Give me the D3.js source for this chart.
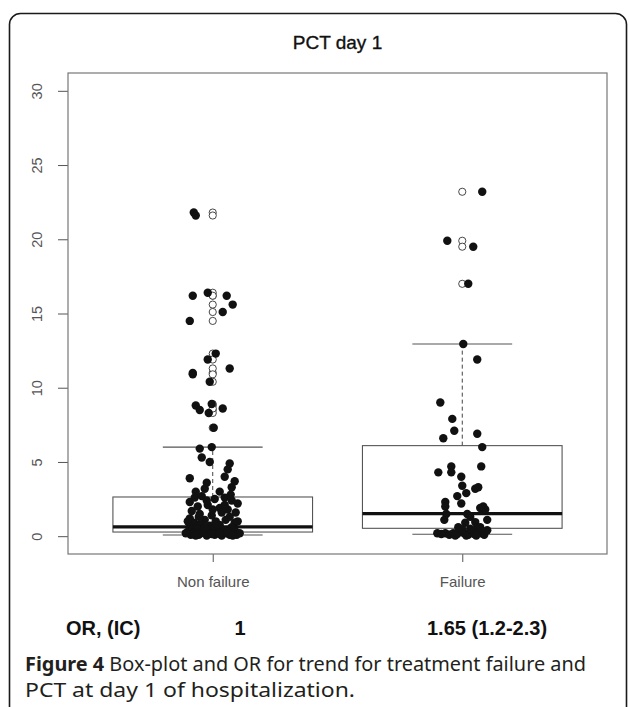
<!DOCTYPE html>
<html>
<head>
<meta charset="utf-8">
<script src="https://cdn.jsdelivr.net/npm/d3@7"></script>
<style>
  html, body { margin: 0; padding: 0; background: #fff; }
  svg { display: block; }
</style>
</head>
<body>
<svg id="chart" width="629" height="707"></svg>
<script>
// ---------- DATA ----------
const title = "PCT day 1";
const categories = ["Non failure", "Failure"];
const yTicks = [0, 5, 10, 15, 20, 25, 30];

// box statistics [lowerWhisker, Q1, median, Q3, upperWhisker]
const boxNonFailure = [0.08, 0.28, 0.63, 2.64, 6.0];
const boxFailure    = [0.13, 0.53, 1.52, 6.1, 12.95];

// jittered observations: [jitter offset (category units), PCT value]
const pointsNonFailure = [
  [-0.076,21.8],[-0.068,21.6],
  [-0.080,16.2],[-0.020,16.4],[0.056,16.2],[0.080,15.6],[0.040,15.1],[-0.092,14.5],
  [0.012,12.3],[-0.020,11.9],[-0.080,11.0],[0.068,11.3],[-0.080,10.9],[-0.012,10.4],
  [-0.068,8.8],[-0.052,8.5],[-0.004,8.9],[-0.016,8.3],[0.040,8.6],
  [0.004,7.3],
  [-0.004,6.0],[-0.052,5.9],[-0.044,5.3],[-0.012,5.0],[0.068,4.9],[0.060,4.5],[-0.092,3.9],
  [0.048,4.0],[0.088,3.7],[0.076,3.3],[-0.024,3.6],[-0.032,3.2],
  [-0.072,2.6],[-0.044,2.7],[0.008,2.5],[0.048,2.6],[0.076,2.4],[0.100,2.2],[-0.092,2.3],
  [-0.060,2.0],[-0.020,2.1],[0.028,1.9],[0.060,1.8],[0.092,1.6],[-0.084,1.7],[-0.052,1.5],
  [-0.004,1.4],[0.036,1.6],[0.068,1.3],[-0.092,1.2],[-0.032,1.1],[0.012,1.0],[0.052,1.1],
  [0.088,0.9],[-0.076,0.9],[-0.052,0.8],[-0.012,0.7],[0.028,0.75],[0.076,0.6],[-0.092,0.6],
  [-0.064,0.5],[-0.032,0.45],[0.004,0.5],[0.044,0.4],[0.084,0.45],[-0.100,0.3],[-0.072,0.25],
  [-0.040,0.3],[-0.012,0.2],[0.020,0.25],[0.056,0.2],[0.092,0.3],[-0.088,0.1],[-0.056,0.1],
  [-0.024,0.05],[0.008,0.1],[0.036,0.05],[0.068,0.1],[0.096,0.1],[-0.080,0.15],[-0.048,0.2],
  [-0.004,0.15],[0.028,0.15],[0.060,0.3],[-0.108,0.2],[0.108,0.2],[-0.068,0.05],[0.080,0.05],
  [-0.032,0.6],[0.016,0.8],[-0.056,1.3],[0.048,2.1],[0.000,1.8],[-0.024,2.4],[0.100,1.0],
  [-0.100,1.0],[0.072,2.8],[-0.068,3.0],[0.028,3.0]
];
const pointsFailure = [
  [0.080,23.2],[-0.060,19.9],[0.044,19.5],[0.024,17.0],[0.004,12.95],[0.060,11.9],
  [-0.088,9.0],[-0.040,7.9],[-0.032,7.1],[-0.076,6.6],[0.060,6.9],[0.080,6.0],
  [-0.044,4.7],[0.076,4.7],[-0.096,4.3],[-0.044,4.3],[-0.004,4.0],[0.000,3.4],
  [-0.020,2.7],[0.016,2.9],[-0.004,2.2],[0.052,3.2],[0.064,3.3],[-0.068,2.3],[-0.068,2.0],
  [-0.072,1.1],[-0.064,1.5],[0.072,1.9],[0.092,1.8],[0.084,2.0],[0.100,1.1],[0.020,1.5],
  [0.032,1.3],[0.052,0.95],[0.012,0.9],[0.060,0.6],
  [-0.100,0.2],[-0.084,0.15],[-0.068,0.2],[-0.052,0.1],[-0.036,0.2],[-0.020,0.15],
  [-0.008,0.3],[0.008,0.2],[0.024,0.1],[0.036,0.25],[0.048,0.15],[0.064,0.3],[0.076,0.2],
  [0.088,0.1],[0.100,0.4],[-0.028,0.05],[0.016,0.05],[0.056,0.05],[0.000,0.45],[0.032,0.5],
  [0.072,0.6],[-0.016,0.6]
];

const orLabel = "OR, (IC)";
const orValues = ["1", "1.65 (1.2-2.3)"];
const captionBold = "Figure 4";
const captionLine1 = " Box-plot and OR for trend for treatment failure and";
const captionLine2 = "PCT at day 1 of hospitalization.";

// ---------- DRAW ----------
const svg = d3.select("#chart");
const frame = { left: 68, right: 607, top: 73, bottom: 554 };

// outer rounded border
svg.append("rect")
  .attr("x", 9.5).attr("y", 13.5)
  .attr("width", 617).attr("height", 760)
  .attr("rx", 11).attr("ry", 11)
  .attr("fill", "none").attr("stroke", "#1a1a1a").attr("stroke-width", 1.6);

const y = d3.scaleLinear().domain([-1.2, 31.2]).range([frame.bottom, frame.top]);
const x = d3.scaleLinear().domain([0.42, 2.58]).range([frame.left, frame.right]);
const halfBox = 0.4, halfStaple = 0.2;

// title
svg.append("text")
  .attr("x", (frame.left + frame.right) / 2).attr("y", 49)
  .attr("text-anchor", "middle")
  .attr("font-family", "Liberation Sans, Arial, sans-serif")
  .attr("font-size", 19).attr("fill", "#111")
  .attr("stroke", "#111").attr("stroke-width", 0.35)
  .text(title);

// y axis
const yAxis = d3.axisLeft(y).tickValues(yTicks).tickSize(10).tickPadding(0);
const gy = svg.append("g").attr("transform", `translate(${frame.left},0)`).call(yAxis);
gy.select(".domain").remove();
gy.selectAll(".tick line").attr("stroke", "#555");
gy.selectAll(".tick text").remove();
gy.selectAll(".tick").append("text")
  .attr("transform", "translate(-31,0) rotate(-90)")
  .attr("text-anchor", "middle").attr("dy", "0.35em")
  .attr("font-family", "Liberation Sans, Arial, sans-serif")
  .attr("font-size", 14.5).attr("fill", "#555")
  .text(d => d);

// x axis
const xAxis = d3.axisBottom(x).tickValues([1, 2]).tickSize(8).tickFormat(d => categories[d - 1]).tickPadding(14);
const gx = svg.append("g").attr("transform", `translate(0,${frame.bottom})`).call(xAxis);
gx.select(".domain").remove();
gx.selectAll(".tick line").attr("stroke", "#555");
gx.selectAll(".tick text")
  .attr("font-family", "Liberation Sans, Arial, sans-serif")
  .attr("font-size", 15).attr("fill", "#555");

// plot frame
svg.append("rect")
  .attr("x", frame.left).attr("y", frame.top)
  .attr("width", frame.right - frame.left).attr("height", frame.bottom - frame.top)
  .attr("fill", "none").attr("stroke", "#777").attr("stroke-width", 1.2);

// boxplots
const groups = [
  { pos: 1, box: boxNonFailure, pts: pointsNonFailure },
  { pos: 2, box: boxFailure, pts: pointsFailure }
];
const gBox = svg.append("g");
groups.forEach(g => {
  const [lw, q1, med, q3, uw] = g.box;
  gBox.append("line").attr("x1", x(g.pos)).attr("x2", x(g.pos))
    .attr("y1", y(q3)).attr("y2", y(uw))
    .attr("stroke", "#444").attr("stroke-dasharray", "4,3").attr("stroke-width", 1);
  gBox.append("line").attr("x1", x(g.pos)).attr("x2", x(g.pos))
    .attr("y1", y(q1)).attr("y2", y(lw))
    .attr("stroke", "#444").attr("stroke-dasharray", "4,3").attr("stroke-width", 1);
  [lw, uw].forEach(v => {
    gBox.append("line").attr("x1", x(g.pos - halfStaple)).attr("x2", x(g.pos + halfStaple))
      .attr("y1", y(v)).attr("y2", y(v)).attr("stroke", "#555").attr("stroke-width", 1.1);
  });
  gBox.append("rect")
    .attr("x", x(g.pos - halfBox)).attr("y", y(q3))
    .attr("width", x(g.pos + halfBox) - x(g.pos - halfBox)).attr("height", y(q1) - y(q3))
    .attr("fill", "none").attr("stroke", "#555").attr("stroke-width", 1.1);
  gBox.append("line").attr("x1", x(g.pos - halfBox)).attr("x2", x(g.pos + halfBox))
    .attr("y1", y(med)).attr("y2", y(med)).attr("stroke", "#111").attr("stroke-width", 3.2);
  gBox.selectAll(null).data(g.pts.filter(p => p[1] > uw)).enter().append("circle")
    .attr("cx", x(g.pos)).attr("cy", p => y(p[1])).attr("r", 3.6)
    .attr("fill", "#fff").attr("stroke", "#333").attr("stroke-width", 0.9);
});

// jittered filled points
groups.forEach(g => {
  svg.append("g").selectAll("circle").data(g.pts).enter().append("circle")
    .attr("cx", p => x(g.pos + p[0])).attr("cy", p => y(p[1])).attr("r", 4.2)
    .attr("fill", "#111");
});

// OR row
const orFont = "Liberation Sans, Arial, sans-serif";
svg.append("text").attr("x", 66).attr("y", 635)
  .attr("font-family", orFont).attr("font-weight", "bold").attr("font-size", 20).attr("fill", "#111")
  .text(orLabel);
svg.append("text").attr("x", 240).attr("y", 635).attr("text-anchor", "middle")
  .attr("font-family", orFont).attr("font-weight", "bold").attr("font-size", 20).attr("fill", "#111")
  .text(orValues[0]);
svg.append("text").attr("x", 427).attr("y", 635)
  .attr("font-family", orFont).attr("font-weight", "bold").attr("font-size", 20).attr("fill", "#111")
  .text(orValues[1]);

// caption
const capFont = "Noto Sans, Open Sans, sans-serif";
const cap1 = svg.append("text").attr("x", 25).attr("y", 671)
  .attr("font-family", capFont).attr("font-size", 19.5).attr("fill", "#231f20")
  .attr("textLength", 561).attr("lengthAdjust", "spacingAndGlyphs");
cap1.append("tspan").attr("font-weight", "bold").text(captionBold);
cap1.append("tspan").text(captionLine1);
svg.append("text").attr("x", 25).attr("y", 697)
  .attr("font-family", capFont).attr("font-size", 19.5).attr("fill", "#231f20")
  .attr("textLength", 330).attr("lengthAdjust", "spacingAndGlyphs")
  .text(captionLine2);
</script>
</body>
</html>
